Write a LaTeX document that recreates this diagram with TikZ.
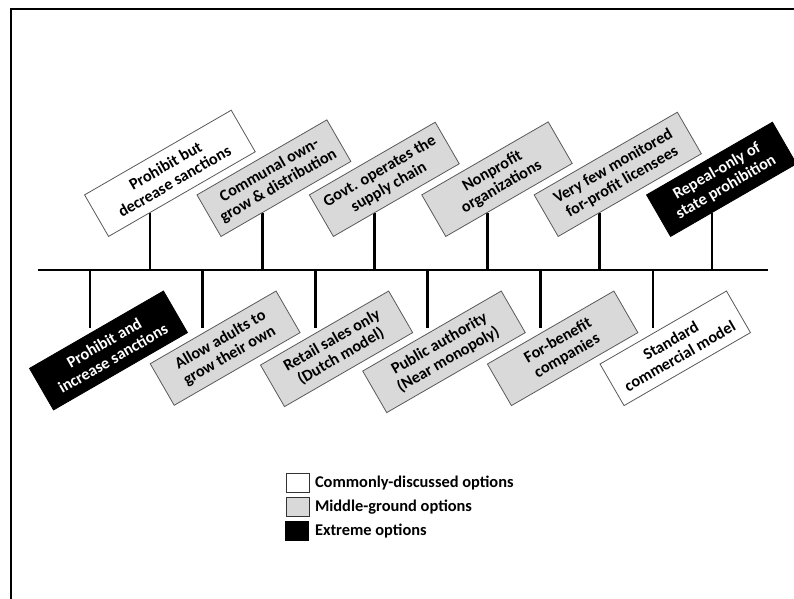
\documentclass[tikz,border=0pt]{standalone}
\usepackage{fontspec}
\setmainfont{Carlito}
\usetikzlibrary{positioning,calc}
\begin{document}
\begin{tikzpicture}
  [x=0.75pt,y=0.75pt,
   optbox/.style={draw=black!65,line width=0.6pt,rotate=30,align=center,
     minimum width=109pt,minimum height=36pt,inner xsep=4pt,inner ysep=2pt,
     font=\bfseries\fontsize{12.2}{13.5}\selectfont},
   common/.style={fill=white},
   middle/.style={fill=black!15},
   extreme/.style={fill=black,text=white,draw=black},
   legbox/.style={draw=black!80,line width=1.2pt,minimum width=17pt,
     minimum height=14pt,inner sep=0pt},
   legtext/.style={font=\bfseries\fontsize{12.3}{14}\selectfont,inner sep=1pt}]
  \useasboundingbox (0,0) rectangle (794,-599);
  \draw[line width=1.5pt] (10.5,-599) -- (10.5,-9) -- (794,-9);

  \coordinate (west) at (38,-270);
  \coordinate (east) at (768,-270);
  \draw[line width=2.2pt] (west) -- (east);

  \foreach \i in {1,...,6} {
    \coordinate (s\i) at ({150+112.4*(\i-1)},-270);
    \coordinate (u\i) at ({150+112.4*(\i-1)},-213);
    \coordinate (t\i) at ({90+112.6*(\i-1)},-270);
    \coordinate (l\i) at ({90+112.6*(\i-1)},-328);
    \draw[line width=2.2pt] (s\i) -- (u\i);
    \draw[line width=2.2pt] (t\i) -- (l\i);
  }

  \node[optbox,common,anchor=south west,minimum width=127pt] (up1) at ($(u1)+(210:48)$) {Prohibit but\\decrease sanctions};
  \node[optbox,middle,anchor=south west,minimum width=112.5pt] (up2) at ($(u2)+(210:48)$) {Communal own-\\grow \& distribution};
  \node[optbox,middle,anchor=south west] (up3) at ($(u3)+(210:48)$) {Govt. operates the\\supply chain};
  \node[optbox,middle,anchor=south west,minimum width=109.5pt] (up4) at ($(u4)+(210:48)$) {Nonprofit\\organizations};
  \node[optbox,middle,anchor=south west,minimum width=124pt] (up5) at ($(u5)+(210:48)$) {Very few monitored\\for-profit licensees};
  \node[optbox,extreme,anchor=south west] (up6) at ($(u6)+(210:48)$) {Repeal-only of\\state prohibition};

  \node[optbox,extreme,anchor=north east,minimum width=116pt] (lo1) at ($(l1)+(0,-5)+(30:85)$) {Prohibit and\\increase sanctions};
  \node[optbox,middle,anchor=north east] (lo2) at ($(l2)+(0,-5)+(30:85)$) {Allow adults to\\grow their own};
  \node[optbox,middle,anchor=north east,minimum width=111pt] (lo3) at ($(l3)+(0,-5)+(30:85)$) {Retail sales only\\(Dutch model)};
  \node[optbox,middle,anchor=north east,minimum width=120pt] (lo4) at ($(l4)+(0,-5)+(30:85)$) {Public authority\\(Near monopoly)};
  \node[optbox,middle,anchor=north east,minimum width=109.5pt] (lo5) at ($(l5)+(0,-5)+(30:85)$) {For-benefit\\companies};
  \node[optbox,common,anchor=north east,minimum width=109.5pt] (lo6) at ($(l6)+(0,-5)+(30:85)$) {Standard\\commercial model};

  \node[legbox,common] (k1) at (298,-483) {};
  \node[legbox,middle] (k2) at (298,-507) {};
  \node[legbox,extreme] (k3) at (297,-531) {};
  \node[legtext,right=2.5pt of k1] (n1) {Commonly-discussed options};
  \node[legtext,right=2.5pt of k2] (n2) {Middle-ground options};
  \node[legtext,right=3.2pt of k3] (n3) {Extreme options};
\end{tikzpicture}
\end{document}
